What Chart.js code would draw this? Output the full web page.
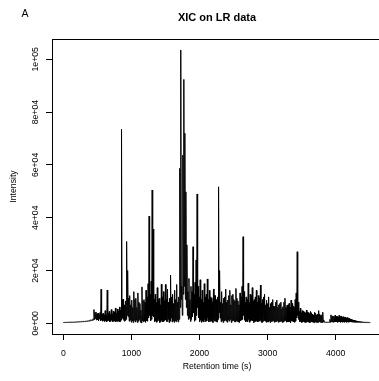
<!DOCTYPE html>
<html>
<head>
<meta charset="utf-8">
<script src="https://cdn.jsdelivr.net/npm/chart.js@4.4.1/dist/chart.umd.min.js"></script>
<style>
  html, body { margin: 0; padding: 0; background: #fff; overflow: hidden; }
  #xic { display: block; }
</style>
</head>
<body>
<canvas id="xic" width="384" height="381"></canvas>
<script>
// XIC on LR data: retention time (s) vs intensity.
// Each 15 s window keeps its highest and lowest reading (the trace is too dense to read scan by scan).

const retentionTime = [
  0, 15, 30, 45, 60, 75, 90, 105, 120, 135,
  150, 165, 180, 195, 210, 225, 240, 255, 270, 285,
  300, 315, 330, 345, 360, 375, 390, 405, 420, 435,
  450, 465, 480, 495, 510, 525, 540, 555, 570, 585,
  600, 615, 630, 645, 660, 675, 690, 705, 720, 735,
  750, 765, 780, 795, 810, 825, 840, 855, 870, 885,
  900, 915, 930, 945, 960, 975, 990, 1005, 1020, 1035,
  1050, 1065, 1080, 1095, 1110, 1125, 1140, 1155, 1170, 1185,
  1200, 1215, 1230, 1245, 1260, 1275, 1290, 1305, 1320, 1335,
  1350, 1365, 1380, 1395, 1410, 1425, 1440, 1455, 1470, 1485,
  1500, 1515, 1530, 1545, 1560, 1575, 1590, 1605, 1620, 1635,
  1650, 1665, 1680, 1695, 1710, 1725, 1740, 1755, 1770, 1785,
  1800, 1815, 1830, 1845, 1860, 1875, 1890, 1905, 1920, 1935,
  1950, 1965, 1980, 1995, 2010, 2025, 2040, 2055, 2070, 2085,
  2100, 2115, 2130, 2145, 2160, 2175, 2190, 2205, 2220, 2235,
  2250, 2265, 2280, 2295, 2310, 2325, 2340, 2355, 2370, 2385,
  2400, 2415, 2430, 2445, 2460, 2475, 2490, 2505, 2520, 2535,
  2550, 2565, 2580, 2595, 2610, 2625, 2640, 2655, 2670, 2685,
  2700, 2715, 2730, 2745, 2760, 2775, 2790, 2805, 2820, 2835,
  2850, 2865, 2880, 2895, 2910, 2925, 2940, 2955, 2970, 2985,
  3000, 3015, 3030, 3045, 3060, 3075, 3090, 3105, 3120, 3135,
  3150, 3165, 3180, 3195, 3210, 3225, 3240, 3255, 3270, 3285,
  3300, 3315, 3330, 3345, 3360, 3375, 3390, 3405, 3420, 3435,
  3450, 3465, 3480, 3495, 3510, 3525, 3540, 3555, 3570, 3585,
  3600, 3615, 3630, 3645, 3660, 3675, 3690, 3705, 3720, 3735,
  3750, 3765, 3780, 3795, 3810, 3825, 3840, 3855, 3870, 3885,
  3900, 3915, 3930, 3945, 3960, 3975, 3990, 4005, 4020, 4035,
  4050, 4065, 4080, 4095, 4110, 4125, 4140, 4155, 4170, 4185,
  4200, 4215, 4230, 4245, 4260, 4275, 4290, 4305, 4320, 4335,
  4350, 4365, 4380, 4395, 4410, 4425, 4440, 4455, 4470, 4485,
  4500
];

// highest reading in each window
const intensityMax = [
  320, 340, 360, 350, 390, 380, 410, 400, 430, 420,
  470, 450, 520, 500, 580, 550, 640, 600, 720, 680,
  790, 760, 880, 840, 980, 940, 1150, 1350, 1250, 1700,
  5200, 4100, 4300, 3600, 3900, 3200, 4100, 12900, 3500, 3800,
  3200, 4800, 3000, 12600, 3800, 4500, 3400, 5200, 3600, 4600,
  4200, 5800, 3800, 5400, 4600, 6200, 5000, 73500, 9000, 9200,
  7000, 8500, 31000, 20000, 9500, 10500, 7000, 8800, 6000, 12000,
  9000, 9500, 6000, 11500, 8000, 7500, 5000, 13800, 8500, 9000,
  8000, 12500, 10000, 15000, 40600, 11000, 16000, 50500, 35700, 9000,
  11000, 8000, 13500, 9000, 9500, 7000, 14800, 10000, 12000, 8500,
  14700, 9000, 13000, 8000, 9500, 18300, 10000, 11000, 7500, 12500,
  9000, 14700, 8000, 10000, 58700, 103500, 14000, 63700, 92400, 72000,
  49800, 29700, 12000, 17000, 9000, 14000, 12000, 29000, 11000, 15500,
  24000, 49000, 14000, 10000, 16500, 9000, 12500, 8000, 15000, 10000,
  11000, 16800, 9000, 12500, 10000, 9500, 8000, 13000, 10500, 10500,
  9000, 10000, 51700, 20000, 8000, 12000, 7500, 9500, 10000, 13000,
  8000, 8800, 10500, 12500, 7000, 10500, 11000, 9000, 8500, 13200,
  9500, 8500, 7000, 11500, 10000, 14000, 32800, 12000, 8000, 10000,
  9000, 15200, 8000, 11000, 10500, 13500, 8500, 9000, 10000, 12500,
  8000, 10500, 9500, 14500, 7500, 9000, 10000, 11000, 7000, 8800,
  7500, 10000, 6000, 7500, 8000, 9000, 6500, 6500, 8000, 8800,
  6000, 7000, 7500, 8000, 5500, 6300, 8000, 9500, 6000, 6800,
  7000, 7500, 6000, 8800, 7500, 6500, 6000, 9000, 11500, 27100,
  8000, 4500, 5700, 4000, 4800, 4500, 4200, 3800, 5000, 4200,
  4000, 3500, 4500, 4000, 3500, 3200, 4200, 3800, 3200, 3500,
  4800, 3500, 3000, 3200, 4200, 1200, 450, 480, 450, 460,
  420, 1500, 3200, 2800, 2800, 2600, 3000, 2700, 2600, 2400,
  3000, 2500, 2700, 2300, 2500, 2200, 2400, 2000, 2200, 1900,
  1800, 1500, 1500, 1300, 1200, 1100, 1000, 900, 850, 800,
  720, 650, 620, 580, 520, 500, 470, 440, 410, 390,
  350
];

// lowest reading in each window
const intensityMin = [
  280, 300, 320, 310, 340, 330, 360, 350, 380, 370,
  420, 400, 460, 440, 520, 490, 570, 540, 640, 610,
  700, 680, 780, 750, 880, 850, 1000, 1150, 1100, 1300,
  1500, 1800, 1200, 1400, 900, 1600, 1000, 1200, 800, 1100,
  700, 1000, 600, 900, 1100, 500, 800, 1300, 600, 900,
  800, 600, 1000, 700, 900, 500, 1200, 2000, 1500, 800,
  1000, 1500, 3000, 2500, 800, 1200, 400, 900, 300, 1100,
  500, 1200, 300, 800, 1500, 400, 200, 1000, 600, 800,
  400, 1000, 800, 2000, 3000, 900, 1500, 3000, 2500, 600,
  1000, 400, 900, 1500, 300, 700, 1200, 500, 800, 1400,
  1200, 600, 1500, 300, 800, 2000, 500, 1000, 400, 900,
  600, 1200, 500, 1500, 6000, 9000, 3000, 11000, 14000, 9000,
  6000, 3000, 1500, 2000, 700, 1500, 2500, 4000, 800, 1200,
  3000, 6000, 2000, 600, 1200, 400, 1000, 500, 1500, 700,
  900, 2000, 500, 1200, 700, 1000, 300, 1500, 800, 600,
  500, 1500, 4000, 2000, 600, 1000, 300, 900, 1200, 800,
  400, 1200, 800, 1500, 300, 900, 1100, 600, 500, 1000,
  700, 500, 300, 1000, 1200, 1500, 3000, 1200, 500, 800,
  600, 1500, 400, 900, 1200, 1000, 300, 800, 700, 1100,
  500, 1000, 800, 1500, 300, 700, 1000, 900, 400, 600,
  500, 900, 300, 700, 800, 1000, 400, 600, 700, 900,
  400, 600, 700, 800, 300, 500, 900, 1000, 400, 500,
  600, 700, 300, 900, 800, 500, 400, 800, 2000, 3000,
  1500, 500, 800, 300, 600, 700, 400, 300, 700, 500,
  400, 300, 600, 500, 400, 200, 500, 400, 300, 400,
  600, 400, 300, 300, 500, 400, 380, 400, 380, 400,
  380, 400, 600, 500, 400, 500, 600, 500, 400, 500,
  500, 400, 600, 400, 500, 400, 500, 400, 500, 400,
  500, 500, 450, 450, 400, 400, 400, 380, 380, 360,
  360, 350, 340, 330, 320, 310, 300, 300, 290, 280,
  300
];

const xTickValues = [0, 1000, 2000, 3000, 4000];
const yTickValues = [0, 20000, 40000, 60000, 80000, 100000];
const yTickLabels = ['0e+00', '2e+04', '4e+04', '6e+04', '8e+04', '1e+05'];

const fontFamily = "'Liberation Sans', Arial, Helvetica, sans-serif";
const axisFont = { family: fontFamily, size: 8.7 };

// panel letter, main title and the R style box around the plot region
const framePlugin = {
    id: 'rFrame',
    afterDraw(chart) {
        const { ctx, chartArea: a } = chart;
        ctx.save();
        ctx.strokeStyle = '#000';
        ctx.lineWidth = 1;
        const l = Math.round(a.left) + 0.5;
        const t = Math.round(a.top) + 0.5;
        const b = Math.round(a.bottom) + 0.5;
        const r = Math.round(a.right) + 0.5;
        ctx.strokeRect(l, t, r - l, b - t);

        ctx.fillStyle = '#000';
        ctx.textBaseline = 'middle';
        ctx.textAlign = 'center';
        ctx.font = `bold 11px ${fontFamily}`;
        ctx.fillText('XIC on LR data', (a.left + a.right) / 2, 17.5);
        ctx.font = `10.5px ${fontFamily}`;
        ctx.fillText('A', 25, 14.5);
        ctx.restore();
    }
};

// window maximum at the window start, minimum half a window later
const points = [];
retentionTime.forEach((t, i) => {
    points.push({ x: t, y: intensityMax[i] });
    points.push({ x: t + 7.5, y: intensityMin[i] });
});

new Chart(document.getElementById('xic'), {
    type: 'line',
    data: {
        datasets: [{
            data: points,
            borderColor: '#000',
            borderWidth: 1,
            pointRadius: 0,
            tension: 0,
            fill: false
        }]
    },
    options: {
        responsive: false,
        animation: false,
        devicePixelRatio: 1,
        layout: { padding: { top: 39, right: 2, left: 0, bottom: 0 } },
        plugins: {
            legend: { display: false },
            tooltip: { enabled: false }
        },
        scales: {
            x: {
                type: 'linear',
                min: -166,
                max: 4680,
                afterFit(scale) { scale.height = 47; },
                afterBuildTicks(scale) { scale.ticks = xTickValues.map(v => ({ value: v })); },
                border: { display: false },
                grid: { drawOnChartArea: false, drawTicks: true, tickLength: 6, color: '#000' },
                ticks: {
                    color: '#000',
                    font: axisFont,
                    padding: 8,
                    autoSkip: false,
                    maxRotation: 0,
                    callback: v => String(v)
                },
                title: {
                    display: true,
                    text: 'Retention time (s)',
                    color: '#000',
                    font: axisFont,
                    padding: { top: 0, bottom: 9 }
                }
            },
            y: {
                type: 'linear',
                min: -4050,
                max: 107700,
                afterFit(scale) { scale.width = 52; },
                afterBuildTicks(scale) { scale.ticks = yTickValues.map(v => ({ value: v })); },
                border: { display: false },
                grid: { drawOnChartArea: false, drawTicks: true, tickLength: 6, color: '#000' },
                ticks: {
                    color: '#000',
                    font: axisFont,
                    padding: -1.5,
                    autoSkip: false,
                    minRotation: 90,
                    maxRotation: 90,
                    crossAlign: 'center',
                    callback: (v, i) => yTickLabels[i]
                },
                title: {
                    display: true,
                    text: 'Intensity',
                    color: '#000',
                    font: axisFont,
                    padding: { top: 8, bottom: 0 }
                }
            }
        }
    },
    plugins: [framePlugin]
});
</script>
</body>
</html>
